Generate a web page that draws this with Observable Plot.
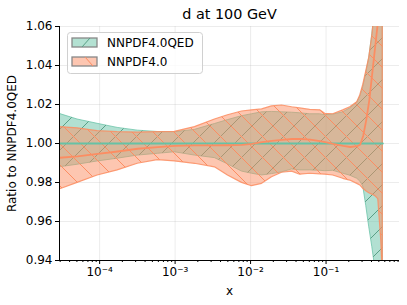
<!DOCTYPE html>
<html><head><meta charset="utf-8">
<script src="https://cdn.jsdelivr.net/npm/d3@7"></script>
<script src="https://cdn.jsdelivr.net/npm/@observablehq/plot@0.6"></script>
<style>
body{margin:0;background:#fff;font-family:"DejaVu Sans",sans-serif;}
#chart{position:relative;width:407px;height:305px;}
#legend{position:absolute;left:67px;top:32px;}
</style></head><body><div id="chart"></div>
<script>
const title = "d at 100 GeV";
const xLabel = "x";
const yLabel = "Ratio to NNPDF4.0QED";
const seriesNames = ["NNPDF4.0QED", "NNPDF4.0"];
const colors = ["#66c2a5", "#fc8d62"];

const xs = [2.943e-5, 5.10e-5, 9.40e-5, 1.734e-4, 3.20e-4, 5.89e-4, 9.91e-4, 1.83e-3, 3.37e-3, 5.01e-3,
  7.69e-3, 1.044e-2, 1.42e-2, 1.92e-2, 2.61e-2, 3.55e-2, 4.53e-2, 6.15e-2, 8.35e-2, 9.73e-2,
  0.1242, 0.1687, 0.209, 0.2588, 0.2838, 0.311, 0.3408, 0.3736, 0.4095, 0.4489, 0.4919, 0.5391, 0.5645];

const qedCentral = [1,1,1,1,1,1,1,1,1,1,1,1,1,1,1,1,1,1,1,1,1,1,1,1,1,1,1,1,1,1,1,1,1];
const qedUpper = [1.0152, 1.0123, 1.0101, 1.0080, 1.0066, 1.0059, 1.0058, 1.0070, 1.0100, 1.0120,
  1.0140, 1.0150, 1.0160, 1.0162, 1.0160, 1.0158, 1.0155, 1.0150, 1.0150, 1.0145,
  1.0148, 1.0160, 1.0180, 1.0210, 1.0240, 1.0290, 1.0360, 1.0440, 1.0560, 1.0700, 1.0900, 1.1100, 1.1200];
const qedLower = [0.9878, 0.9891, 0.9908, 0.9922, 0.9938, 0.9947, 0.9955, 0.9938, 0.9925, 0.9893,
  0.9856, 0.9845, 0.9836, 0.9843, 0.9852, 0.9867, 0.9862, 0.9862, 0.9860, 0.9858,
  0.9860, 0.9845, 0.9835, 0.9819, 0.9805, 0.9780, 0.9680, 0.9570, 0.9470, 0.9360, 0.9200, 0.9000, 0.8900];

const baseCentral = [0.9927, 0.9934, 0.9947, 0.9959, 0.9973, 0.9981, 0.9988, 0.9990, 0.9990, 0.9991,
  0.9993, 0.9998, 1.0007, 1.0013, 1.0019, 1.0023, 1.0023, 1.0020, 1.0012, 1.0007,
  0.9998, 0.9988, 0.9982, 0.9986, 0.9995, 1.0040, 1.0120, 1.0220, 1.0360, 1.0500, 1.0640, 1.0800, 1.0900];
const baseUpper = [1.0084, 1.0078, 1.0063, 1.0058, 1.0056, 1.0058, 1.0060, 1.0084, 1.0123, 1.0145,
  1.0164, 1.0170, 1.0175, 1.0190, 1.0195, 1.0186, 1.0180, 1.0172, 1.0170, 1.0152,
  1.0150, 1.0170, 1.0186, 1.0212, 1.0246, 1.0300, 1.0370, 1.0440, 1.0550, 1.0700, 1.0900, 1.1100, 1.1200];
const baseLower = [0.9764, 0.9798, 0.9836, 0.9862, 0.9896, 0.9915, 0.9908, 0.9896, 0.9878, 0.9836,
  0.9798, 0.9781, 0.9793, 0.9827, 0.9850, 0.9856, 0.9840, 0.9845, 0.9842, 0.9840,
  0.9836, 0.9819, 0.9810, 0.9793, 0.9785, 0.9768, 0.9755, 0.9745, 0.9738, 0.9730, 0.9715, 0.9500, 0.9300];

const yTicks = [0.94, 0.96, 0.98, 1.00, 1.02, 1.04, 1.06];
const xTicks = [1e-4, 1e-3, 1e-2, 1e-1];
const xTickLabels = ["10⁻⁴", "10⁻³", "10⁻²", "10⁻¹"];
const xDomain = [2.94e-5, 0.94];
const yDomain = [0.94, 1.06];

const rows = xs.map((x, i) => ({
  x, gC: qedCentral[i], gU: qedUpper[i], gL: qedLower[i],
  oC: baseCentral[i], oU: baseUpper[i], oL: baseLower[i]
}));

const minorTicks = [];
for (let e = -5; e < 0; e++) for (let k = 2; k < 10; k++) {
  const v = k * Math.pow(10, e);
  if (v >= xDomain[0] && v <= xDomain[1]) minorTicks.push(v);
}

const gridStyle = {stroke: "#b0b0b0", strokeOpacity: 0.3, strokeWidth: 0.8};

const svg = Plot.plot({
  width: 407, height: 305,
  marginLeft: 59, marginRight: 8, marginTop: 26, marginBottom: 45,
  style: {fontFamily: "DejaVu Sans", fontSize: "12px", color: "#000", background: "#fff"},
  x: {type: "log", domain: xDomain},
  y: {domain: yDomain},
  marks: [
    Plot.gridX(xTicks, gridStyle),
    Plot.gridY(yTicks, gridStyle),
    Plot.areaY(rows, {x: "x", y1: "gL", y2: "gU", fill: colors[0], fillOpacity: 0.5,
      stroke: colors[0], strokeOpacity: 0.75, strokeWidth: 1, clip: true}),
    Plot.areaY(rows, {x: "x", y1: "gL", y2: "gU", fill: "url(#hatchQED)", clip: true}),
    Plot.areaY(rows, {x: "x", y1: "oL", y2: "oU", fill: colors[1], fillOpacity: 0.5,
      stroke: colors[1], strokeOpacity: 0.85, strokeWidth: 1.2, clip: true}),
    Plot.areaY(rows, {x: "x", y1: "oL", y2: "oU", fill: "url(#hatchBase)", clip: true}),
    Plot.lineY(rows, {x: "x", y: "gC", stroke: colors[0], strokeWidth: 2, clip: true}),
    Plot.lineY(rows, {x: "x", y: "oC", stroke: colors[1], strokeWidth: 1.8, clip: true}),
    Plot.ruleX([xDomain[0]], {stroke: "#000", strokeWidth: 1}),
    Plot.ruleY([yDomain[0]], {stroke: "#000", strokeWidth: 1}),
    Plot.axisY(yTicks, {tickSize: 4, tickPadding: 3, tickFormat: d3.format(".2f"), label: null}),
    Plot.axisX(minorTicks, {tickSize: 2, tickFormat: () => "", label: null}),
    Plot.axisX(xTicks, {tickSize: 4, tickPadding: 3, tickFormat: d => xTickLabels[xTicks.indexOf(d)], label: null}),
    Plot.text([title], {text: d => d, frameAnchor: "top", textAnchor: "middle", lineAnchor: "middle", dy: -12, fontSize: 14.4}),
    Plot.text([xLabel], {text: d => d, frameAnchor: "bottom", textAnchor: "middle", lineAnchor: "middle", dy: 31, fontSize: 12}),
    Plot.text([yLabel], {text: d => d, frameAnchor: "left", textAnchor: "middle", lineAnchor: "middle", rotate: -90, dx: -47, fontSize: 12})
  ]
});

// hatch patterns
const s = 21;
const defs = d3.select(svg).insert("defs", ":first-child");
defs.append("pattern").attr("id", "hatchQED").attr("patternUnits", "userSpaceOnUse")
  .attr("width", s).attr("height", s)
  .append("path").attr("d", `M0,${s}L${s},0M-2,2L2,-2M${s-2},${s+2}L${s+2},${s-2}`)
  .attr("stroke", "#5a9f86").attr("stroke-width", 1).attr("fill", "none");
defs.append("pattern").attr("id", "hatchBase").attr("patternUnits", "userSpaceOnUse")
  .attr("width", s).attr("height", s)
  .append("path").attr("d", `M0,0L${s},${s}M-2,${s-2}L2,${s+2}M${s-2},-2L${s+2},2`)
  .attr("stroke", "#fc8d62").attr("stroke-width", 1).attr("fill", "none");

const chart = document.getElementById("chart");
chart.appendChild(svg);

// legend
const legend = document.createElement("div");
legend.id = "legend";
legend.innerHTML = `
<svg width="136" height="42" style="font-family:'DejaVu Sans';font-size:12px">
  <rect x="0.5" y="0.5" width="135" height="41" rx="3" fill="rgba(255,255,255,0.8)" stroke="#d0d0d0"/>
  <rect x="5" y="6" width="25" height="9" fill="#b3e1d2" stroke="#888" stroke-width="1.3"/>
  <path d="M15,15L23,6" stroke="#5a9f86" stroke-width="1"/>
  <rect x="5" y="25" width="25" height="9" fill="#fdc6b1" stroke="#888" stroke-width="1.3"/>
  <path d="M18,25L26,34" stroke="#fc8d62" stroke-width="1"/>
  <text x="40" y="10.5" dominant-baseline="central" fill="#000">${seriesNames[0]}</text>
  <text x="40" y="29.5" dominant-baseline="central" fill="#000">${seriesNames[1]}</text>
</svg>`;
chart.appendChild(legend);
</script>
</body></html>
